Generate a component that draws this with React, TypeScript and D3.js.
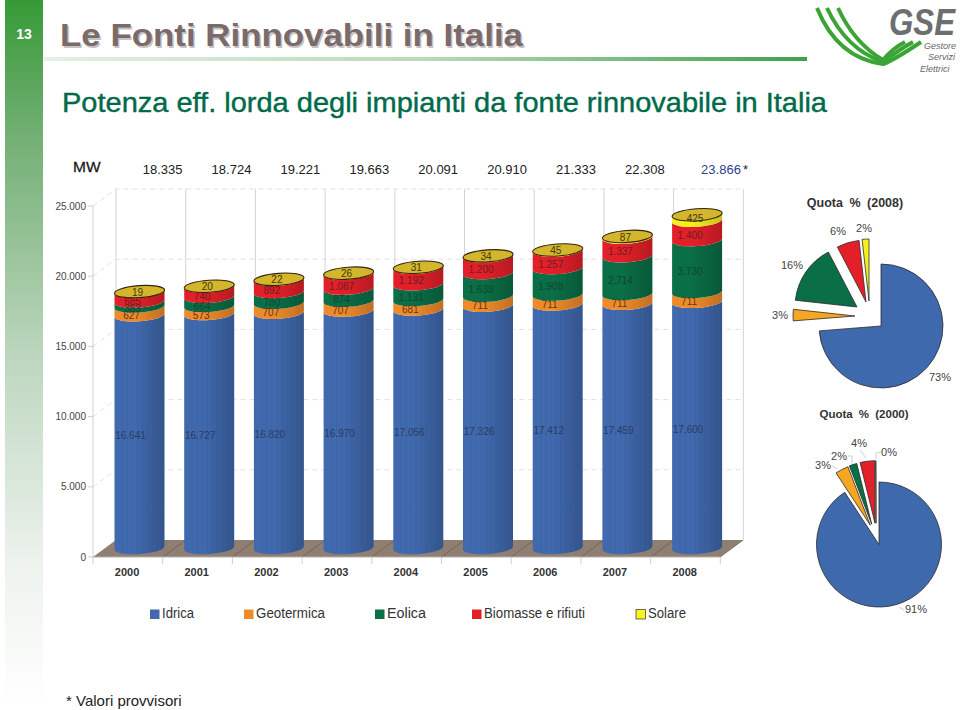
import React from "react";
import * as d3 from "d3";

const years = ["2000","2001","2002","2003","2004","2005","2006","2007","2008"];
const idrica = [16641,16727,16820,16970,17056,17326,17412,17459,17600];
const geotermica = [627,573,707,707,681,711,711,711,711];
const eolica = [363,664,780,874,1131,1639,1908,2714,3730];
const biomasse = [685,740,892,1087,1192,1200,1257,1337,1400];
const solare = [19,20,22,26,31,34,45,87,425];
const totals = ["18.335","18.724","19.221","19.663","20.091","20.910","21.333","22.308","23.866"];
const yTicks = [0,5000,10000,15000,20000,25000];
const seriesNames = ["Idrica","Geotermica","Eolica","Biomasse e rifiuti","Solare"];
const seriesColors = ["#4069ae","#ee8a2a","#0a6e46","#e3202a","#f5ef1e"];
const pieColors = ["#3f69ad","#f5a623","#0a6e46","#e3202a","#f5ef1e"];
const pie2008Labels = ["73%","3%","16%","6%","2%"];
const pie2000Labels = ["91%","3%","2%","4%","0%"];

const fmt = (n:number)=> d3.format(",")(n).replace(/,/g,".");
const FONT = "'Liberation Sans', Arial, sans-serif";

const axisY = d3.scaleLinear().domain([0,25000]).range([557,206]);
const barY = d3.scaleLinear().domain([0,25000]).range([546.5,199]);
const axisX = d3.scaleBand().domain(years).range([93,720.3]);
const barX = (i:number)=> (axisX(years[i]) as number) + 46.5;
const RX = 25, RY = 6, TILT = 1.8;

function cyl(cx:number,yb:number,yt:number){
  const l=cx-RX,r=cx+RX;
  return `M${l},${yt+TILT} L${l},${yb+TILT} A${RX},${RY} -4 0 0 ${r},${yb-TILT} L${r},${yt-TILT} A${RX},${RY} -4 0 1 ${l},${yt+TILT} Z`;
}
function topEll(cx:number,y:number){
  const l=cx-RX,r=cx+RX;
  return `M${l},${y+TILT} A${RX},${RY} -4 1 1 ${r},${y-TILT} A${RX},${RY} -4 1 1 ${l},${y+TILT} Z`;
}

function Pie({cx,cy,r,vals,offsets,labels,labelPos,leaders}:{cx:number,cy:number,r:number,vals:number[],offsets:number[][],labels:string[],labelPos:number[][],leaders?:number[][][]}){
  const arcs = d3.pie<number>().sort(null).value(d=>d)(vals);
  const arc = d3.arc<any>().innerRadius(0).outerRadius(r);
  return <g>
    {arcs.map((a,i)=><path key={i} d={arc(a) as string} transform={`translate(${cx+offsets[i][0]},${cy+offsets[i][1]})`} fill={pieColors[i]} stroke="#2b2b2b" strokeWidth={0.8}/>)}
    {leaders && leaders.map((l,i)=><polyline key={i} points={l.map(p=>p.join(",")).join(" ")} fill="none" stroke="#bbb" strokeWidth={0.7}/>)}
    {labels.map((t,i)=><text key={i} x={labelPos[i][0]} y={labelPos[i][1]} fontSize={11} fill="#444" textAnchor="middle" fontFamily={FONT}>{t}</text>)}
  </g>;
}

export default function App(){
  const series=[idrica,geotermica,eolica,biomasse,solare];
  const lblDx=[-9,-8,-7,-7,-2];
  const backDx=23, backDy=-17;
  const right=axisX.range()[1];
  const i8=years.length-1;
  return <svg width={960} height={710} style={{position:"absolute",left:0,top:0,background:"#fff"}} fontFamily={FONT}>
    <defs>
      <linearGradient id="side" x1="0" y1="0" x2="0" y2="1">
        <stop offset="0" stopColor="#369a36"/><stop offset="0.18" stopColor="#6fae70"/><stop offset="0.5" stopColor="#bcd6be"/><stop offset="0.8" stopColor="#eef3ee"/><stop offset="1" stopColor="#fff"/>
      </linearGradient>
      <linearGradient id="rule" x1="0" y1="0" x2="1" y2="0">
        <stop offset="0" stopColor="#e4f0e4"/><stop offset="0.5" stopColor="#b9d9b9"/><stop offset="1" stopColor="#3fa24a"/>
      </linearGradient>
      {seriesColors.map((c,i)=><linearGradient key={i} id={`g${i}`} x1="0" y1="0" x2="1" y2="0">
        <stop offset="0" stopColor={c}/><stop offset="0.4" stopColor={c}/><stop offset="1" stopColor={d3.color(c)!.darker(0.6).formatHex()}/>
      </linearGradient>)}
    </defs>

    <rect x={5} y={0} width={38} height={708} fill="url(#side)"/>
    <text x={24} y={39} fontSize={14} fontWeight="bold" fill="#fff" textAnchor="middle">13</text>
    <rect x={44} y={57} width={763} height={4} fill="url(#rule)"/>
    <text x={61.5} y={47.5} fontSize={32} fontWeight="bold" fill="#c9c2c2" textLength={463} lengthAdjust="spacingAndGlyphs">Le Fonti Rinnovabili in Italia</text>
    <text x={60} y={46} fontSize={32} fontWeight="bold" fill="#7a6a6a" textLength={463} lengthAdjust="spacingAndGlyphs">Le Fonti Rinnovabili in Italia</text>
    <text x={62} y={112} fontSize={27.5} fill="#006b4a" stroke="#006b4a" strokeWidth={0.4} textLength={765} lengthAdjust="spacingAndGlyphs">Potenza eff. lorda degli impianti da fonte rinnovabile in Italia</text>

    {/* logo */}
    <g fill="none" stroke="#3aa535" strokeWidth={4} strokeLinecap="butt">
      <path d="M817,8 C830,40 852,60 883,64 C892,61 906,52 921,42"/>
      <path d="M827,8 C840,36 860,54 883,62 C890,57 900,49 913,42"/>
      <path d="M838,8 C849,32 866,50 883,60 C888,54 895,47 905,42"/>
    </g>
    <text x={889} y={35} fontSize={37} fontWeight="bold" fontStyle="italic" fill="#6d6e70" textLength={66} lengthAdjust="spacingAndGlyphs">GSE</text>
    <g fontSize={9} fill="#666" fontStyle="italic"><text x={924} y={49}>Gestore</text><text x={928} y={60}>Servizi</text><text x={920} y={72}>Elettrici</text></g>

    <text x={73} y={172} fontSize={15.5} fill="#1a1a1a" stroke="#1a1a1a" strokeWidth={0.3}>MW</text>
    {totals.map((t,i)=><text key={i} x={i===8?721:162.6+i*68.9} y={174} fontSize={13} textAnchor="middle" fill={i===8?"#2c3f8a":"#222"}>{t}</text>)}
    <text x={743} y={174} fontSize={13} fill="#222">*</text>

    {/* walls */}
    <path d={`M93,${axisY(0)} L${93+backDx},${axisY(0)+backDy} L${right+backDx},${axisY(0)+backDy} L${right},${axisY(0)} Z`} fill="#8f7f72"/>
    {yTicks.slice(1).map(t=><g key={t} stroke="#e2e2e2" strokeDasharray="5 4" fill="none">
      <polyline points={`93,${axisY(t)} ${93+backDx},${axisY(t)+backDy} ${right+backDx},${axisY(t)+backDy}`}/>
    </g>)}
    {[...years,"end"].map((y,i)=><line key={y} x1={93+backDx+i*axisX.step()} x2={93+backDx+i*axisX.step()} y1={axisY(25000)+backDy} y2={axisY(0)+backDy} stroke="#d4d4d8" strokeWidth={1}/>)}
    {years.map((y,i)=><line key={y} x1={93+(i+1)*axisX.step()} x2={93+backDx+(i+1)*axisX.step()} y1={axisY(0)} y2={axisY(0)+backDy} stroke="#5f544b" strokeWidth={0.6}/>)}
    <line x1={93} x2={93} y1={axisY(25000)} y2={axisY(0)} stroke="#cfcfcf"/>
    <line x1={93} x2={right} y1={axisY(0)} y2={axisY(0)} stroke="#b5b0ab" strokeWidth={1}/>
    {yTicks.map(t=><g key={t}>
      <line x1={88} x2={93} y1={axisY(t)} y2={axisY(t)} stroke="#cfcfcf"/>
      <text x={86} y={axisY(t)+3.5} fontSize={10} textAnchor="end" fill="#444">{fmt(t)}</text>
    </g>)}
    {years.map((y,i)=><g key={y}>
      <line x1={93+i*axisX.step()} x2={93+i*axisX.step()} y1={axisY(0)} y2={axisY(0)+7} stroke="#cfcfcf"/>
      <text x={(axisX(y) as number)+axisX.step()/2-0.8} y={576} fontSize={11} fontWeight="bold" textAnchor="middle" fill="#333">{y}</text>
    </g>)}
    <line x1={right} x2={right} y1={axisY(0)} y2={axisY(0)+7} stroke="#cfcfcf"/>

    {/* cylinders */}
    {years.map((y,i)=>{
      const cx=barX(i);
      let acc=0;
      const segs=series.map((s,k)=>{const a=acc;acc+=s[i];return {k,a,b:acc};});
      return <g key={y}>
        {segs.map(s=><path key={s.k} d={cyl(cx,barY(s.a)+(s.k===0?1.5:0),barY(s.b))} fill={`url(#g${s.k})`}/>)}
        {[0,1,2,3,4,5,6,7].map(j=><line key={j} x1={cx-RX+8+j*5} x2={cx-RX+8+j*5} y1={barY(idrica[i])+6} y2={barY(0)+5} stroke="#2f4f85" strokeOpacity={0.18} strokeWidth={0.7}/>)}
        <path d={topEll(cx,barY(acc))} fill="#d3b62c" stroke="#33240f" strokeWidth={1.1}/>
        {segs.map(s=>{
          const ym=(barY(s.a)+barY(s.b))/2+(s.k===4?0.5:5);
          return <text key={s.k} x={cx+lblDx[s.k]} y={ym+3.5} fontSize={10} textAnchor="middle" fill={["#2c3c5e","#5f3816","#0f4631","#6e1c20","#3f3812"][s.k]}>{fmt(series[s.k][i])}</text>;
        })}
      </g>;
    })}

    {/* legend */}
    {seriesNames.map((n,i)=>{
      const sx=[150,244,375,472,636][i];
      return <g key={n}>
        <rect x={sx} y={609.5} width={9.5} height={9.5} fill={i===4?"#f7f420":seriesColors[i]} stroke={i===4?"#333":"none"} strokeWidth={0.7}/>
        <text x={sx+12} y={618} fontSize={14} fill="#333" textLength={[32,69,39,101,38][i]} lengthAdjust="spacingAndGlyphs">{n}</text>
      </g>;
    })}

    <text x={66} y={706} fontSize={15} fill="#222">* Valori provvisori</text>

    <text x={855} y={207} fontSize={12.5} fontWeight="bold" fill="#333" textAnchor="middle" wordSpacing={3}>Quota % (2008)</text>
    <Pie cx={881} cy={326} r={62} vals={series.map(s=>s[i8])}
      offsets={[[0,0],[-26,-10],[-24,-19],[-15,-24],[-12,-25]]}
      labels={pie2008Labels}
      labelPos={[[940,381],[780,319],[792,269],[838,235],[864,232]]}/>
    <text x={864} y={418} fontSize={11.5} fontWeight="bold" fill="#333" textAnchor="middle" wordSpacing={3}>Quota % (2000)</text>
    <Pie cx={879} cy={544.5} r={62.5} vals={series.map(s=>s[0])}
      offsets={[[0,0],[-8.7,-19.3],[-7.3,-20.3],[-4,-21.3],[-3,-21.3]]}
      labels={pie2000Labels}
      labelPos={[[916,613],[823,469],[839,460],[859,447],[889,456]]}
      leaders={[[[899,607],[904,610]],[[832,466],[838,469]],[[848,456],[852,456],[852,464]],[[860,450],[866,458]],[[876,459],[876,453],[881,452]]]}/>
  </svg>;
}
